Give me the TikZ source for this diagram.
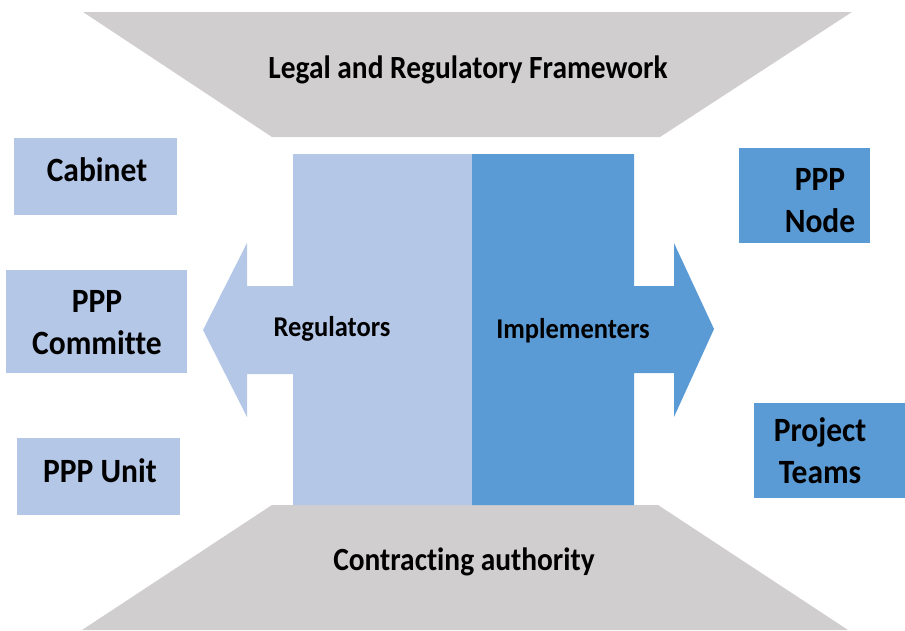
\documentclass[tikz,border=0pt]{standalone}
\usepackage{fontspec}
\setmainfont[Ligatures=NoCommon]{Carlito}
\definecolor{lightblue}{HTML}{B4C7E7}
\definecolor{darkblue}{HTML}{5B9BD5}
\definecolor{greyshape}{HTML}{D0CECE}
\begin{document}
\begin{tikzpicture}[x=1pt,y=-1pt,
  box/.style={fill=#1,draw=none},
  lbl/.style={font=\bfseries\fontsize{31.5}{39}\selectfont,text=black,align=center,inner sep=0pt,yscale=1.08},
  mid/.style={font=\bfseries\fontsize{26.5}{30}\selectfont,text=black,inner sep=0pt,yscale=1.08},
  big/.style={font=\bfseries\fontsize{29.4}{34}\selectfont,text=black,inner sep=0pt,yscale=1.1}]
\useasboundingbox (0,0) rectangle (905,630);
% trapezoids
\fill[greyshape] (83,12) -- (852,12) -- (660,137) -- (272,137) -- cycle;
\fill[greyshape] (272,505) -- (658,505) -- (848,630) -- (82,630) -- cycle;
% central arrows
\fill[lightblue] (293,154) -- (472,154) -- (472,505) -- (293,505) -- (293,374) -- (247,374) -- (247,417) -- (203,330) -- (247,243) -- (247,286) -- (293,286) -- cycle;
\fill[darkblue] (472,154) -- (634,154) -- (634,286) -- (674,286) -- (674,243) -- (714,329) -- (674,417) -- (674,373) -- (634,373) -- (634,505) -- (472,505) -- cycle;
% side boxes
\fill[box=lightblue] (14,138) rectangle (177,215);
\fill[box=lightblue] (6,270) rectangle (187,373);
\fill[box=lightblue] (17,438) rectangle (180,515);
\fill[box=darkblue] (739,148) rectangle (870,243);
\fill[box=darkblue] (754,403) rectangle (905,498);
% labels
\node[big] (legal) at (468,69.5) {Legal and Regulatory Framework};
\node[big] (contract) at (464,562) {Contracting authority};
\node[mid] (reg) at (332,328.5) {Regulators};
\node[mid] (impl) at (573,330.5) {Implementers};
\node[lbl] (cabinet) at (97,170) {Cabinet};
\node[lbl] (committe) at (97,323) {PPP\\Committe};
\node[lbl] (unit) at (100,471) {PPP Unit};
\node[lbl] (pppnode) at (820,201) {PPP\\Node};
\node[lbl] (teams) at (820,451) {Project\\Teams};
\end{tikzpicture}
\end{document}
